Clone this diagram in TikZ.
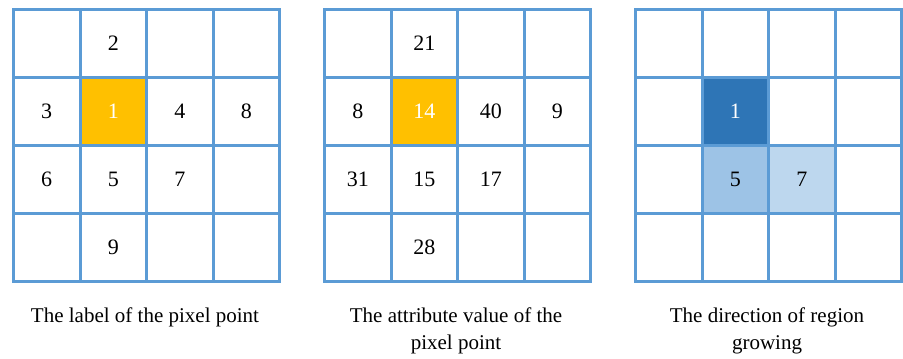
\documentclass[tikz,border=0pt]{standalone}
\usepackage{fontspec}
\setmainfont{Liberation Serif}
\begin{document}
\begin{tikzpicture}[x=1pt,y=-1pt,
  numfont/.style={font=\fontsize{22}{22}\selectfont},
  cell/.style={draw=gridblue,line width=3pt,minimum width=66.5pt,minimum height=68pt,inner sep=0pt,anchor=north west,numfont},
  num/.style={numfont},
  caption/.style={align=center,font=\fontsize{21}{26.5}\selectfont,anchor=north}]
\definecolor{gridblue}{HTML}{5B9BD5}
\definecolor{seedorange}{HTML}{FFC000}
\definecolor{darkb}{HTML}{2E75B6}
\definecolor{midb}{HTML}{9DC3E6}
\definecolor{lightb}{HTML}{BDD7EE}
\useasboundingbox (0,0) rectangle (903,359);
\foreach \r in {0,...,3}{\foreach \c in {0,...,3}{
  \node[cell] (a\r\c) at ({12+66.5*\c},{8+68*\r}) {};
  \node[cell] (b\r\c) at ({323+66.5*\c},{8+68*\r}) {};
  \node[cell] (d\r\c) at ({634+66.5*\c},{8+68*\r}) {};
}}
% left labels
\node[cell,fill=seedorange,text=white] (a11f) at (a11.north west) {1};
\node[num] (na01) at (a01) {2};
\node[num] (na10) at (a10) {3};
\node[num] (na12) at (a12) {4};
\node[num] (na13) at (a13) {8};
\node[num] (na20) at (a20) {6};
\node[num] (na21) at (a21) {5};
\node[num] (na22) at (a22) {7};
\node[num] (na31) at (a31) {9};
% middle labels
\node[cell,fill=seedorange,text=white] (b11f) at (b11.north west) {14};
\node[num] (nb01) at (b01) {21};
\node[num] (nb10) at (b10) {8};
\node[num] (nb12) at (b12) {40};
\node[num] (nb13) at (b13) {9};
\node[num] (nb20) at (b20) {31};
\node[num] (nb21) at (b21) {15};
\node[num] (nb22) at (b22) {17};
\node[num] (nb31) at (b31) {28};
% right labels
\node[cell,fill=darkb,text=white] (d11f) at (d11.north west) {1};
\node[cell,fill=midb] (d21f) at (d21.north west) {5};
\node[cell,fill=lightb] (d22f) at (d22.north west) {7};
% captions
\node[caption] (ca) at (145,304.5) {The label of the pixel point};
\node[caption] (cb) at (456,304.5) {The attribute value of the\\pixel point};
\node[caption] (cd) at (767,304.5) {The direction of region\\growing};
\end{tikzpicture}
\end{document}
